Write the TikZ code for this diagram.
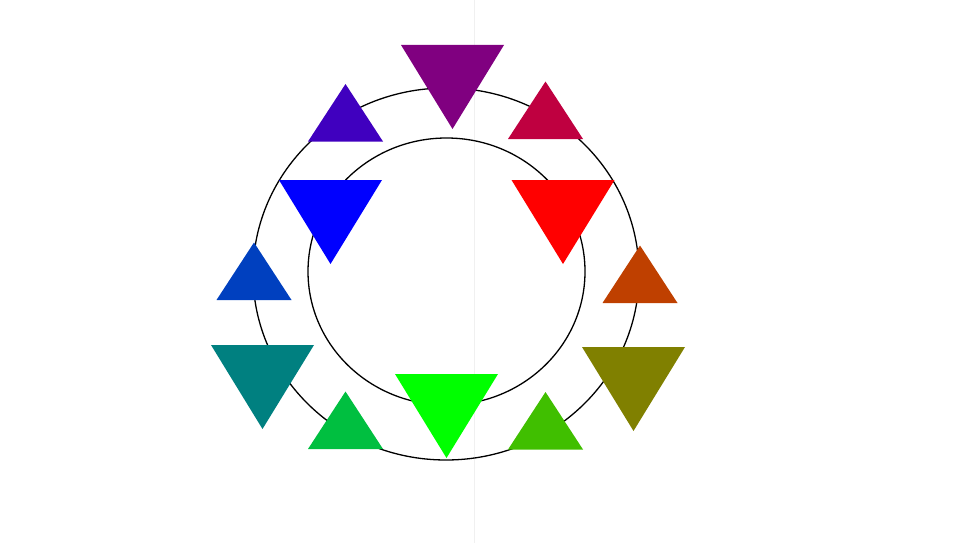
\documentclass[tikz,border=0pt]{standalone}
\usepackage{tikz}
\definecolor{wheelpurple}{RGB}{128,0,128}
\definecolor{wheelred}{RGB}{255,0,0}
\definecolor{wheelblue}{RGB}{0,0,255}
\definecolor{wheelgreen}{RGB}{0,255,0}
\definecolor{wheelteal}{RGB}{0,128,128}
\definecolor{wheelolive}{RGB}{128,128,0}
\definecolor{wheelcrimson}{RGB}{191,0,64}
\definecolor{wheelorange}{RGB}{191,64,0}
\definecolor{wheellime}{RGB}{64,191,0}
\definecolor{wheelmint}{RGB}{0,191,64}
\definecolor{wheelcobalt}{RGB}{0,64,191}
\definecolor{wheelviolet}{RGB}{64,0,191}
\tikzset{ring/.style={black, line width=1.3pt}}

\begin{document}
\begin{tikzpicture}[x=1pt, y=-1pt]
	\useasboundingbox (0,0) rectangle (965,543);

	\draw[black!6, line width=0.8pt] (474,0) -- (474,543);

	\draw[ring] (446,274) ellipse [x radius=193, y radius=186];
	\draw[ring] (446.5,271.5) ellipse [x radius=138.5, y radius=133.5];

	% big triangles, apex down
	\foreach \cx/\ty/\col in {452.5/45/wheelpurple, 330.5/180/wheelblue, 563/180/wheelred,
			446.5/374/wheelgreen, 262.5/345/wheelteal, 633.5/347/wheelolive}
		\fill[\col] (\cx-51.5,\ty) -- (\cx+51.5,\ty) -- (\cx,\ty+84) -- cycle;

	% small triangles, apex up
	\foreach \cx/\by/\col in {345.5/141.5/wheelviolet, 545.5/139/wheelcrimson, 254/300/wheelcobalt,
			640/303/wheelorange, 345.5/449/wheelmint, 545.5/449.5/wheellime}
		\fill[\col] (\cx-37.5,\by) -- (\cx+37.5,\by) -- (\cx,\by-57.5) -- cycle;
\end{tikzpicture}
\end{document}
